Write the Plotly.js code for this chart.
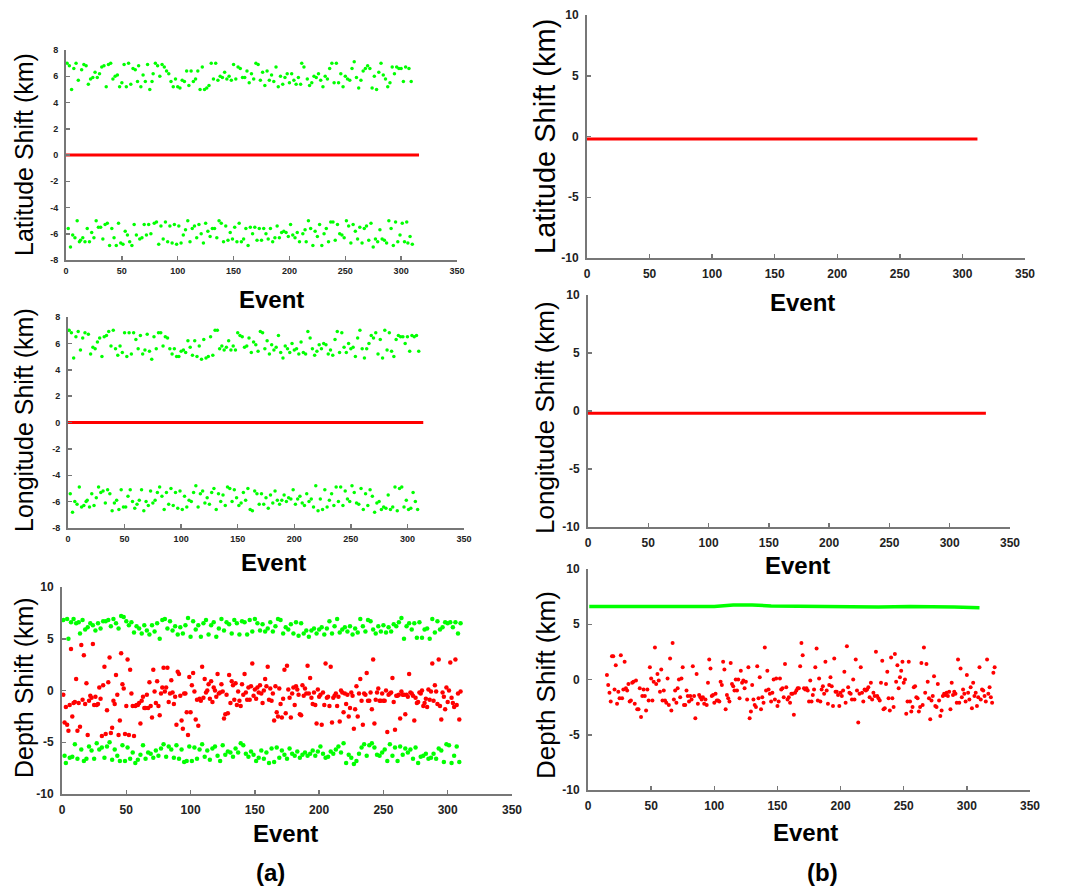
<!DOCTYPE html>
<html>
<head>
<meta charset="utf-8">
<script src="https://cdn.plot.ly/plotly-3.0.1.min.js"></script>
<style>html,body{margin:0;padding:0;background:#fff}#chart{width:1088px;height:891px}</style>
</head>
<body>
<div id="chart"></div>
<script>
// ---------- DATA ----------
const xTicks = [0, 50, 100, 150, 200, 250, 300, 350];
const ticksA8 = [-8, -6, -4, -2, 0, 2, 4, 6, 8];
const ticksA8Text = ["-8", "-6", "-4", "-2", "0", "2", "4", "6", "8"];
const ticks10 = [-10, -5, 0, 5, 10];
const ticks10Text = ["-10", "-5", "0", "5", "10"];

// (a) Latitude: green shifts per event (events 1..310), red zero line
const latGreenA = [
 7.0,-5.6,6.8,-7.0,5.0,-6.1,6.6,-6.3,7.0,-5.0,
 5.7,-6.6,-6.5,6.5,-6.3,6.9,-6.6,6.8,-5.6,5.4,
 -6.6,5.8,-5.9,5.9,-6.3,6.3,-5.0,5.9,-5.5,6.2,
 -5.5,6.7,-6.4,6.8,-5.3,5.2,-5.2,6.9,-6.9,7.0,
 -5.6,5.8,-6.3,6.0,-6.9,6.1,-5.2,5.2,-6.7,5.5,
 -6.8,6.9,-5.8,5.2,-6.1,7.0,-6.6,5.4,-6.9,6.6,
 -5.3,6.5,-6.1,5.6,6.8,-6.4,5.2,-6.3,6.1,-5.3,
 5.6,-6.1,6.9,-5.3,5.0,-6.0,5.6,6.2,-5.2,7.0,
 -5.1,6.8,-6.8,6.0,-5.4,6.9,-6.4,6.7,-5.1,6.4,
 -6.6,6.2,-5.4,5.6,-6.7,5.2,-5.3,5.8,-6.8,5.2,
 -5.4,5.1,-6.7,5.7,-6.1,5.6,-5.7,6.4,-5.0,5.3,
 -6.6,6.4,-5.6,5.6,-5.4,5.8,-6.3,6.4,-5.3,5.0,
 -6.0,6.7,-6.7,5.0,-5.2,5.1,-5.8,5.3,-6.2,7.0,
 -5.6,5.8,-5.6,7.0,-6.3,5.7,-5.0,6.0,-5.2,5.9,
 -6.6,6.3,-5.4,5.8,-6.5,6.0,-5.9,5.7,-6.4,6.9,
 -5.5,5.8,-6.6,6.7,-5.2,6.6,-6.6,5.9,-6.4,5.9,
 -5.6,6.4,-6.9,5.5,-5.5,6.2,-6.0,5.8,-5.5,7.0,
 -6.5,6.9,-5.6,5.7,-6.5,6.3,-5.6,5.3,-6.0,6.4,
 -6.4,5.7,-5.6,6.1,-6.6,5.6,-6.3,6.7,-5.4,5.2,
 -6.3,6.0,-5.9,5.4,-5.8,5.9,-5.9,6.2,-6.2,5.5,
 -5.3,6.2,-6.1,5.7,-6.3,5.4,-5.9,5.9,-6.6,5.4,
 7.0,-6.0,6.7,-5.7,-6.6,5.8,-5.0,5.3,-5.6,5.5,
 -6.9,6.0,-5.8,5.9,-6.2,6.2,-5.3,5.7,-6.9,5.2,
 -6.0,6.0,-5.6,5.8,-6.6,6.6,-5.1,7.0,-5.1,5.5,
 -6.5,7.0,-5.3,5.5,-6.0,6.2,-6.1,5.2,-6.3,6.0,
 -5.0,5.8,-5.4,5.7,-6.7,6.6,-5.3,7.1,-5.8,5.9,
 -6.4,5.1,-5.5,5.7,-6.7,6.4,-5.6,6.6,-5.4,6.8,
 -6.5,6.6,-5.2,5.1,-7.0,6.0,-6.4,5.0,-6.6,6.3,
 -5.7,7.0,-6.4,6.1,-6.5,5.8,-6.7,5.2,-5.0,5.5,
 -5.6,6.7,-6.9,6.2,-5.1,6.7,-6.6,6.6,-6.1,6.6,
 -5.2,5.6,-6.6,6.7,-5.1,-6.7,6.6,-6.2,5.6,-6.8
];
const latRedAX = [0, 316];
const latRedAY = [0, 0];

// (a) Longitude
const lonGreenA = [
 7.0,-5.4,6.8,-6.8,4.9,-6.0,6.5,-6.2,6.9,-4.9,
 5.5,-6.4,6.4,-6.3,6.8,-6.0,-5.9,6.7,-6.4,5.2,
 -5.4,5.7,-6.3,5.6,-5.7,6.1,-4.9,6.4,-5.3,5.0,
 -5.2,6.5,-6.1,6.6,-5.1,6.9,-5.4,5.8,-6.7,7.0,
 -6.1,5.6,-5.9,5.1,-6.6,5.8,-5.1,5.3,-6.4,6.8,
 -6.4,5.0,-5.6,6.8,-5.1,5.2,-6.0,6.8,-6.5,6.3,
 -6.2,5.6,-5.9,6.6,-5.1,5.2,-6.7,5.5,-6.0,6.7,
 -6.3,5.4,-5.2,4.8,-6.1,6.5,-5.9,5.6,-5.3,6.8,
 -4.9,6.8,-5.6,5.8,-6.6,6.5,-5.3,6.4,-6.2,5.6,
 -5.0,5.2,-6.3,5.6,-5.3,5.0,-6.5,5.0,-5.2,5.4,
 -6.6,5.5,-5.6,5.3,-6.4,6.2,-5.9,5.7,-6.0,5.1,
 -5.3,6.2,-4.8,5.0,-6.4,5.8,-5.4,4.8,-5.2,6.3,
 -6.1,4.9,-5.7,5.0,-6.2,6.5,-5.3,5.1,-5.0,7.0,
 -6.6,7.0,-5.4,5.6,-6.0,5.8,-5.5,5.5,-6.3,5.7,
 -4.9,6.2,-5.0,5.5,-6.0,5.8,-5.1,5.5,-5.7,6.8,
 -6.3,6.6,-6.1,6.5,-5.3,5.7,-5.9,5.8,-5.0,6.4,
 -6.6,5.3,-6.7,6.1,-5.2,5.9,-5.4,5.4,-6.2,6.9,
 -5.4,6.8,-6.2,5.6,-5.7,6.2,-6.5,5.2,-5.5,5.9,
 -6.1,5.5,-5.2,5.7,-5.9,6.6,-6.2,5.3,-5.9,4.9,
 -5.5,5.8,-6.0,5.6,-5.7,5.3,-5.8,6.0,-5.1,5.5,
 -6.2,5.6,-5.8,5.2,-5.6,6.1,-6.1,5.3,-6.3,5.2,
 -5.4,6.9,-6.0,6.4,-5.8,5.6,-6.4,5.1,-4.8,5.4,
 -6.7,5.9,-5.8,5.6,-6.6,6.0,-5.1,5.9,-6.4,5.2,
 -5.9,5.5,-5.4,5.1,-6.3,6.3,-4.9,6.9,-6.0,5.3,
 -4.9,6.8,-6.3,5.7,-5.2,5.3,-5.8,6.0,-6.0,5.6,
 -4.8,5.7,-5.3,5.0,-6.1,6.4,-6.2,7.0,-5.0,5.6,
 -6.6,4.9,-5.4,5.6,-6.3,6.0,-5.1,6.6,-5.6,6.4,
 -6.8,6.8,-6.1,5.2,-6.0,6.3,-6.6,4.9,-6.4,7.0,
 -6.5,5.5,-5.5,6.8,-6.6,5.4,-6.4,5.0,-4.9,6.3,
 -6.7,6.6,-5.0,6.5,-4.9,6.5,-6.4,6.0,-5.9,6.5,
 -6.6,5.4,-6.5,6.6,-5.3,6.5,-6.0,6.6,-6.6,5.4
];
const lonRedAX = [0, 314];
const lonRedAY = [0, 0];

// (a) Depth
const depthGreenA = [
 6.8,-6.3,-7.0,6.9,5.0,-6.5,6.6,-6.4,6.9,-5.2,
 6.5,-6.6,6.6,5.5,-5.7,6.8,-6.8,5.9,-6.6,6.1,
 -5.4,6.5,-5.8,6.3,-6.6,5.8,-5.1,6.5,-5.7,6.0,
 -5.5,6.7,-6.5,6.7,-5.4,6.8,-5.0,6.2,-6.7,6.9,
 -5.7,6.5,-6.3,6.0,-6.8,7.2,-5.3,7.1,-6.8,6.7,
 -5.5,6.3,-6.6,6.6,-6.0,5.6,-7.0,6.2,-6.7,6.0,
 -6.2,5.5,-5.3,6.3,-6.6,5.8,-6.0,5.4,-6.1,6.3,
 -6.5,5.7,-5.8,6.5,-6.3,5.0,-5.6,6.8,-5.2,6.9,
 -6.4,6.0,-5.4,6.7,-5.7,5.8,-6.5,6.2,-5.3,5.4,
 -6.6,6.1,-5.7,5.5,-6.9,6.3,-6.8,7.0,-5.4,5.2,
 -6.8,6.7,-5.5,5.9,-6.6,6.3,-5.7,5.2,-5.2,6.5,
 -6.4,6.8,-5.8,5.4,-6.7,6.3,-5.6,6.6,-5.4,5.2,
 -6.3,6.0,-6.8,6.9,-5.3,5.8,-6.2,6.6,-5.9,6.4,
 -6.0,5.5,-6.4,6.8,-5.6,6.5,-6.0,5.4,-5.1,6.7,
 -5.3,6.6,-6.1,5.4,-6.4,6.8,-5.9,5.7,-6.2,6.9,
 -6.8,6.5,-6.5,5.8,-5.8,6.4,-6.6,5.7,-6.0,6.0,
 -7.0,6.6,-5.6,5.7,-6.9,6.2,-5.5,6.9,-6.5,6.8,
 -5.8,5.5,-6.2,6.1,-6.6,5.9,-5.6,6.4,-6.1,5.5,
 -6.3,6.6,-5.9,5.3,-6.5,6.5,-6.2,5.5,-6.0,5.8,
 -6.3,5.2,-6.1,5.8,-5.8,6.0,-6.3,5.5,-5.9,5.9,
 -5.4,6.1,-6.1,5.4,-6.5,6.0,-6.4,6.7,-5.9,5.5,
 -6.1,6.2,-5.7,6.9,-5.4,5.6,-6.0,5.9,-5.1,6.1,
 -7.0,5.7,-6.2,6.2,-6.5,5.4,-7.1,6.0,-6.8,5.6,
 -6.1,6.9,-5.5,6.2,-5.2,5.7,-6.3,6.8,-5.3,6.7,
 -5.1,5.9,-5.5,5.5,-6.2,6.2,-6.3,5.7,-6.0,6.3,
 -5.7,5.6,-6.8,6.1,-5.2,5.7,-6.3,6.4,-5.5,6.2,
 -6.8,6.6,-5.4,7.0,-6.2,5.0,-5.6,6.2,-6.0,6.5,
 -5.7,5.9,-6.6,6.5,-5.5,5.1,-7.0,6.6,-6.4,5.1,
 -6.3,5.9,-6.1,6.0,-6.6,5.0,-6.5,6.9,-6.1,5.6,
 -6.6,6.7,-5.6,5.9,-5.8,6.1,-6.9,6.6,-5.2,6.5,
 -5.3,6.6,-7.0,6.1,-6.3,6.6,-5.4,5.5,-6.9,6.5
];
const depthRedA = [
 -0.4,-3.1,-1.6,-3.3,-3.9,-1.4,4.0,-2.5,-1.2,-1.1,
 1.1,-3.9,-1.2,-3.5,4.4,-0.9,3.4,-1.3,0.7,-4.3,
 -1.0,-0.5,-0.7,4.5,-1.4,-0.6,-1.4,-1.3,0.3,-0.8,
 -4.4,0.5,2.3,-4.2,-1.9,0.8,3.2,-4.1,-3.6,-1.0,
 -1.3,1.5,-0.4,-4.3,-2.9,3.6,0.6,0.2,-4.2,-1.5,
 3.0,-4.3,2.0,-0.3,-1.5,-4.4,-1.5,-1.4,-1.4,-1.2,
 -3.2,-1.0,-0.6,-1.7,-1.7,-0.4,-1.7,0.8,-1.5,-2.6,
 2.0,-0.1,-1.2,0.9,-1.5,-2.4,-0.3,0.3,2.2,-0.1,
 0.3,2.2,-1.1,-0.3,1.0,-0.2,-1.3,-0.6,-3.3,1.8,
 1.6,-0.5,-2.9,-3.7,-0.3,-0.3,-2.1,-4.3,1.3,-2.1,
 0.5,1.7,-0.1,-2.8,-0.9,-3.4,-0.8,-1.0,2.3,-0.7,
 1.1,-0.2,0.0,0.6,-0.8,0.9,-1.1,0.3,0.0,-0.6,
 1.6,-0.3,-0.2,0.6,-0.1,-2.7,-2.3,-0.4,-2.2,1.5,
 -1.2,0.9,0.5,-0.9,0.7,-1.4,-0.1,-1.0,-1.5,0.6,
 -0.4,1.6,-0.2,-0.9,0.3,-0.9,0.4,2.6,-0.5,0.1,
 -0.8,0.3,-0.2,0.5,-0.3,-1.2,0.0,1.1,0.4,2.3,
 -0.9,0.2,-1.0,-0.3,-2.9,0.4,-2.1,-2.5,0.2,-1.3,
 -2.6,-0.8,2.0,-2.2,2.4,0.1,-0.7,-2.6,-0.3,0.3,
 -1.4,0.4,0.1,-0.4,-2.3,-2.4,0.5,-0.5,0.2,-0.3,
 2.4,-0.3,1.2,-0.7,-1.3,-0.2,-1.4,-3.2,0.1,-0.6,
 -0.4,-3.3,-0.2,-1.4,2.6,-0.7,-0.6,-1.5,2.3,-3.1,
 -0.7,-0.5,-0.3,-1.5,-0.6,-3.0,0.0,-0.2,-2.1,-0.3,
 -1.3,-0.4,-2.5,-1.7,-0.2,-0.5,-3.7,-1.8,0.4,-2.5,
 -0.3,1.1,-1.0,-3.3,-0.3,-0.4,1.7,-1.0,-1.0,-0.2,
 -1.8,3.0,-3.2,-0.9,-0.2,0.2,-1.0,-1.0,-0.3,-1.0,
 -1.0,0.0,-4.0,-0.4,-0.3,-0.2,1.2,-1.1,-3.8,-0.5,
 -0.5,-0.4,-2.7,-0.1,-0.4,-0.4,-2.3,-0.4,-0.6,1.6,
 -0.2,-0.3,-0.5,-2.9,-0.7,-1.2,-1.1,-0.2,-0.3,0.0,
 -1.5,-1.2,-0.8,-1.6,0.1,-0.9,-0.1,2.6,-1.0,0.5,
 -0.1,-1.3,3.0,-1.5,-2.8,-0.2,-0.6,-1.8,0.3,-1.1,
 0.0,2.7,-0.7,-1.2,-1.6,3.0,-1.4,-0.3,-2.8,-0.1
];

// (b) Latitude / Longitude red flat lines
const latRedBX = [0, 312];
const latRedBY = [-0.2, -0.2];
const lonRedBX = [0, 330];
const lonRedBY = [-0.2, -0.2];

// (b) Depth: green band and red scatter (events 15..322)
const depthGreenBX = [1, 20, 50, 80, 100, 115, 130, 145, 170, 200, 230, 255, 270, 290, 310];
const depthGreenBY = [6.6, 6.6, 6.6, 6.6, 6.6, 6.75, 6.75, 6.65, 6.6, 6.55, 6.55, 6.6, 6.6, 6.55, 6.5];
const depthRedBStart = 15;
const depthRedB = [
 0.4,-0.5,-1.2,-2.0,2.1,2.1,-0.9,1.3,-2.2,-1.1,
 -1.7,2.2,-1.7,-0.9,1.6,-0.8,-1.0,-0.4,-2.0,-1.9,
 -0.3,-0.2,-2.2,-0.1,-2.7,-2.7,-0.8,-3.4,-1.5,-0.9,
 -1.5,-2.8,-0.9,-1.9,1.1,0.1,-1.9,-0.2,2.9,-0.4,
 0.5,-0.1,-1.1,0.9,-1.9,-1.0,-1.9,-2.1,0.1,-2.3,
 1.9,-2.8,3.3,-1.8,-1.0,-2.1,-0.8,0.0,-1.6,0.1,
 1.1,-2.3,-2.3,-1.0,-1.5,-2.0,-1.5,-1.8,1.2,-1.5,
 -3.5,0.5,-2.2,-1.4,-1.6,-1.8,-1.6,-2.2,-1.8,-2.3,
 -0.3,1.8,1.0,-1.5,-1.4,-2.1,-1.3,-1.9,-1.9,-2.0,
 -0.2,-0.5,1.6,0.9,-2.7,-1.4,-1.7,-2.0,1.5,-0.4,
 -0.6,-1.0,0.0,-1.0,0.0,-1.7,0.8,-0.3,-0.1,-0.8,
 -0.2,-1.8,1.1,-3.5,-2.9,-0.5,-1.8,-2.3,-2.5,1.2,
 -1.7,0.2,-2.7,-1.6,-2.1,2.9,-1.0,0.8,-0.9,-1.3,
 -2.0,-1.2,0.0,-1.8,0.1,-2.4,-2.0,0.1,-0.9,-0.8,
 -1.6,1.4,-0.7,-1.8,-1.6,-2.1,-1.3,-1.3,-3.2,-1.2,
 -1.0,-0.8,-0.8,1.2,3.3,2.2,-0.8,-0.9,-0.8,-1.0,
 -2.0,-0.1,-2.0,-1.4,-0.9,1.1,2.8,-1.9,0.1,-2.0,
 -0.9,-0.6,-1.3,1.6,-1.0,-2.2,-0.5,0.2,-0.6,-2.4,
 1.9,-1.1,-1.1,-1.4,-2.4,-1.2,-1.5,-1.0,0.7,-2.1,
 3.0,-0.7,-1.2,-1.3,-1.8,0.0,-1.8,1.8,-1.0,-3.9,
 -1.3,1.1,-1.2,-2.0,-0.9,-1.0,-0.9,-0.7,-1.6,-0.3,
 -1.8,-1.2,-1.5,2.5,-1.5,-1.7,-1.9,-0.3,1.7,-2.7,
 -2.6,-0.4,0.7,-1.7,-2.8,2.0,-1.7,-2.5,2.3,-0.2,
 1.3,-0.8,0.2,0.8,1.6,-0.3,0.0,-3.1,-2.0,1.6,
 -2.0,-2.9,-2.5,-0.7,-0.6,-1.6,-1.7,-2.9,-2.5,1.5,
 -2.3,2.9,-1.2,1.4,-0.2,-1.7,-3.6,-1.9,-1.5,0.3,
 -2.4,-2.5,-0.4,-1.9,-3.3,-2.8,-1.5,-1.3,-1.4,-1.2,
 -1.5,-1.1,-2.7,-0.3,-1.4,-1.1,-1.3,-2.1,1.8,-2.1,
 1.0,-1.6,-0.9,-1.3,-2.0,0.4,-1.2,-1.8,-0.7,-2.6,
 -0.3,-1.5,-1.2,-2.4,-1.6,1.1,-1.8,-0.9,-1.0,-1.5,
 -2.0,1.8,-1.3,-0.7,-1.6,-2.1,0.6,1.1
];

// ---------- BUILD ----------
const W = 1088, H = 891;
const GREEN = '#00ff00', RED = '#ff0000';
const idx = (arr, start) => arr.map((_, i) => i + start);

function px2x(p) { return p / W; }
function px2y(p) { return 1 - p / H; }

// panel geometry in pixels: [xLeft, xRight, yTop, yBottom]
const panels = [
  {id: '',  box: [66, 457, 50, 260],   yr: [-8, 8],   tv: ticksA8, tt: ticksA8Text, fs: 9},
  {id: '2', box: [68, 464, 317, 528],  yr: [-8, 8],   tv: ticksA8, tt: ticksA8Text, fs: 9},
  {id: '3', box: [62, 512, 587, 794],  yr: [-10, 10], tv: ticks10, tt: ticks10Text, fs: 12},
  {id: '4', box: [587, 1025, 15, 258], yr: [-10, 10], tv: ticks10, tt: ticks10Text, fs: 12},
  {id: '5', box: [588, 1010, 295, 527],yr: [-10, 10], tv: ticks10, tt: ticks10Text, fs: 12},
  {id: '6', box: [588, 1030, 569, 790],yr: [-10, 10], tv: ticks10, tt: ticks10Text, fs: 12}
];

const layout = {
  width: W, height: H,
  margin: {l: 0, r: 0, t: 0, b: 0},
  paper_bgcolor: '#ffffff', plot_bgcolor: '#ffffff',
  showlegend: false,
  font: {family: 'Liberation Sans, Arial, sans-serif', color: '#000'},
  annotations: []
};

panels.forEach(p => {
  const [x0, x1, y0, y1] = p.box;
  const tickfont = {family: 'Liberation Sans, Arial, sans-serif', size: p.fs, color: '#222', weight: 'bold'};
  layout['xaxis' + p.id] = {
    domain: [px2x(x0), px2x(x1)], range: [0, 350], anchor: 'y' + p.id,
    tickvals: xTicks, ticks: 'inside', ticklen: 4, tickwidth: 1.5, tickcolor: '#777',
    showline: true, linecolor: '#777', linewidth: 2, showgrid: false, zeroline: false,
    tickfont: tickfont, ticklabelstandoff: p.fs === 9 ? 1 : 4
  };
  layout['yaxis' + p.id] = {
    domain: [px2y(y1), px2y(y0)], range: p.yr, anchor: 'x' + p.id,
    tickvals: p.tv, ticktext: p.tt, ticks: 'inside', ticklen: 4, tickwidth: 1.5, tickcolor: '#777',
    showline: true, linecolor: '#777', linewidth: 2, showgrid: false, zeroline: false,
    tickfont: tickfont, ticklabelstandoff: 4
  };
});

function ann(text, x, y, size, bold, angle) {
  layout.annotations.push({
    text: text, xref: 'paper', yref: 'paper', x: px2x(x), y: px2y(y),
    xanchor: 'center', yanchor: 'middle', showarrow: false, textangle: angle || 0,
    font: {family: 'Liberation Sans, Arial, sans-serif', size: size, color: '#000', weight: bold ? 'bold' : 'normal'}
  });
}
// x titles
ann('Event', 271, 299, 24, true);
ann('Event', 273, 562, 24, true);
ann('Event', 285, 833, 24, true);
ann('Event', 802, 302, 24, true);
ann('Event', 797, 565, 24, true);
ann('Event', 805, 832, 24, true);
// y titles
ann('Latitude Shift (km)', 24, 155, 25, false, -90);
ann('Longitude Shift (km)', 24, 420, 25, false, -90);
ann('Depth Shift (km)', 24, 688, 25, false, -90);
ann('Latitude Shift (km)', 545, 137, 29, false, -90);
ann('Longitude Shift (km)', 545, 418, 26, false, -90);
ann('Depth Shift (km)', 546, 685, 26, false, -90);
// panel labels
ann('(a)', 270, 872, 24, true);
ann('(b)', 822, 872, 24, true);

function pts(x, y, xa, ya, color, size) {
  return {x: x, y: y, xaxis: xa, yaxis: ya, type: 'scatter', mode: 'markers',
          marker: {color: color, size: size, line: {width: 0}}, hoverinfo: 'skip'};
}
function line(x, y, xa, ya, color, width) {
  return {x: x, y: y, xaxis: xa, yaxis: ya, type: 'scatter', mode: 'lines',
          line: {color: color, width: width}, hoverinfo: 'skip'};
}

const traces = [
  pts(idx(latGreenA, 1), latGreenA, 'x', 'y', GREEN, 3.5),
  line(latRedAX, latRedAY, 'x', 'y', RED, 3),
  pts(idx(lonGreenA, 1), lonGreenA, 'x2', 'y2', GREEN, 3.5),
  line(lonRedAX, lonRedAY, 'x2', 'y2', RED, 3),
  pts(idx(depthGreenA, 1), depthGreenA, 'x3', 'y3', GREEN, 4.5),
  pts(idx(depthRedA, 1), depthRedA, 'x3', 'y3', RED, 4.5),
  line(latRedBX, latRedBY, 'x4', 'y4', RED, 3),
  line(lonRedBX, lonRedBY, 'x5', 'y5', RED, 3),
  line(depthGreenBX, depthGreenBY, 'x6', 'y6', GREEN, 3.5),
  pts(idx(depthRedB, depthRedBStart), depthRedB, 'x6', 'y6', RED, 4)
];

Plotly.newPlot('chart', traces, layout, {staticPlot: true, displayModeBar: false});
</script>
</body>
</html>
